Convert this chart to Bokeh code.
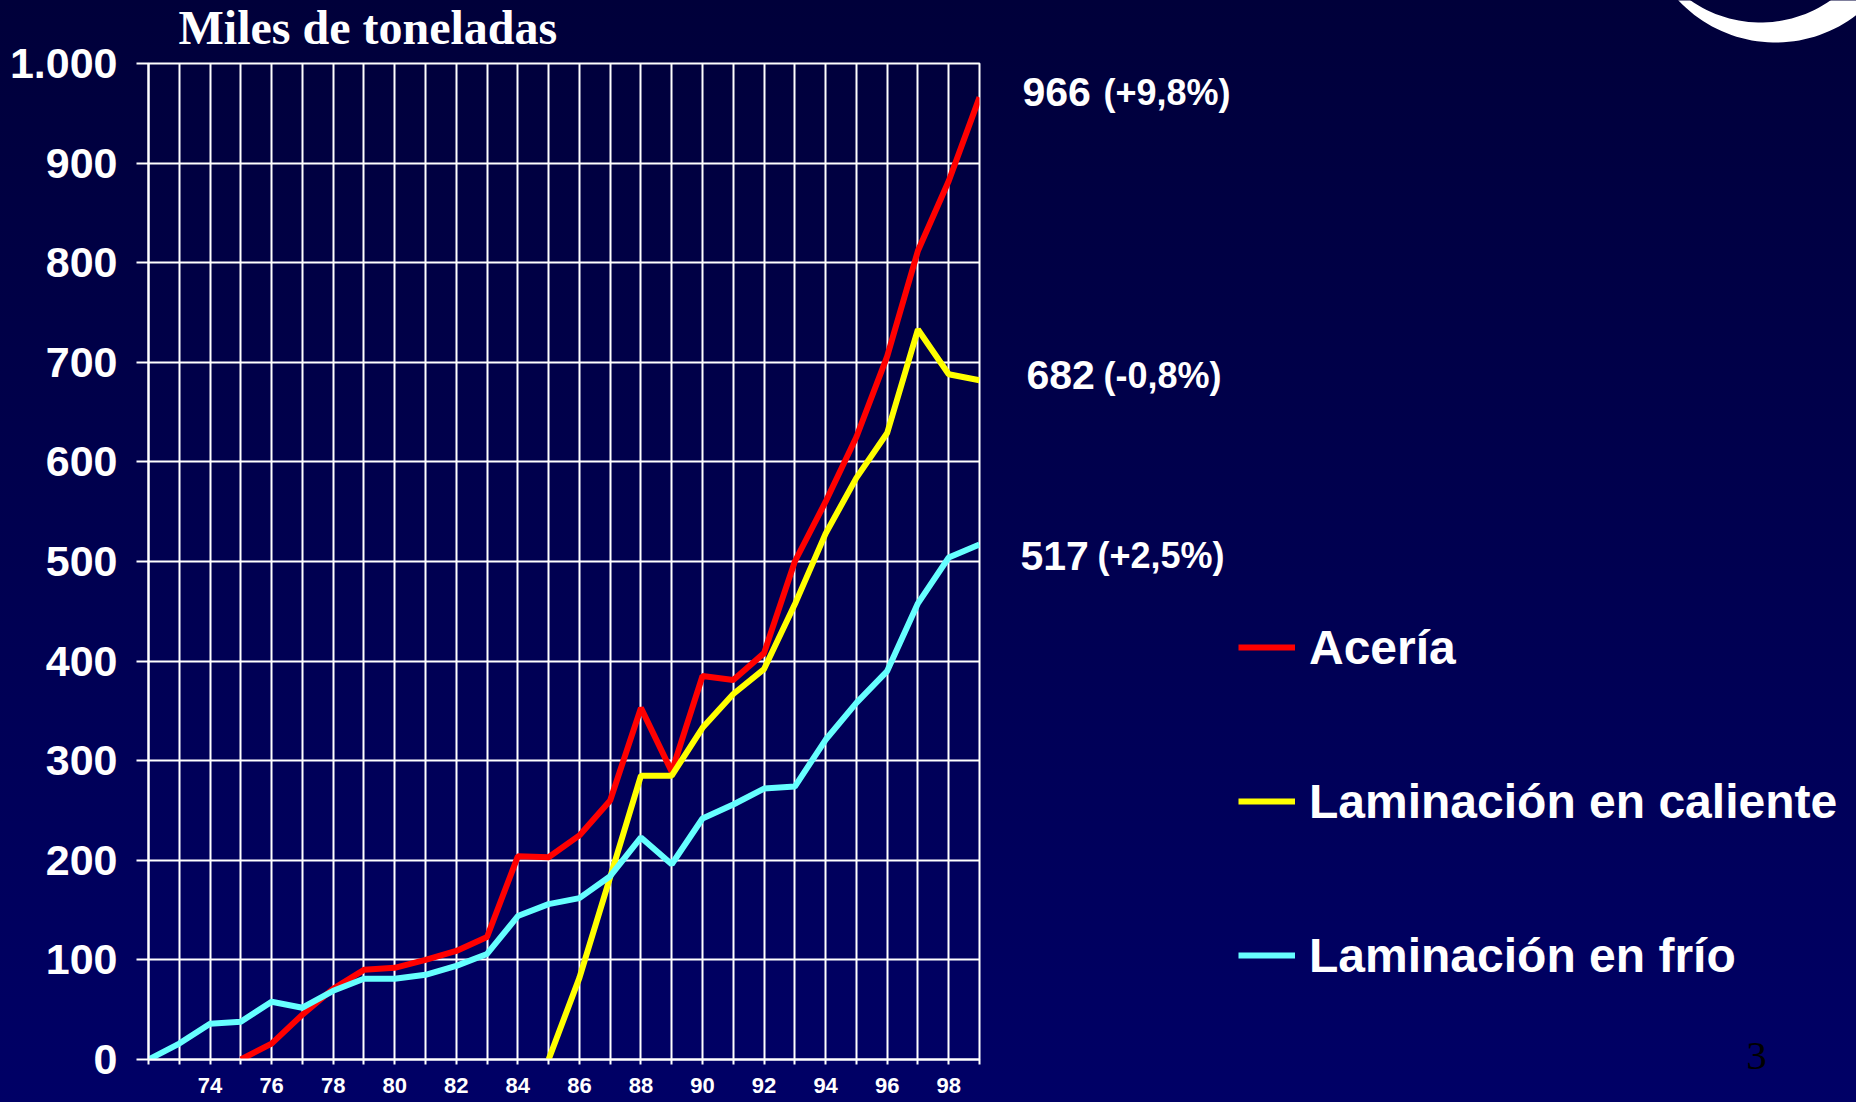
import numpy as np
from bokeh.plotting import figure
from bokeh.layouts import row, column
from bokeh.models import FixedTicker, Label, Legend, LegendItem
from bokeh.embed import file_html
from bokeh.resources import INLINE

# ---------------- data ----------------
aceria_years = list(range(1975, 2000))
aceria = [0, 16, 45, 71, 90, 92, 100, 109, 123, 204, 203, 225, 260, 353, 289,
          385, 381, 408, 500, 560, 625, 706, 812, 882, 966]

caliente_years = list(range(1985, 2000))
caliente = [0, 82, 183, 285, 285, 333, 367, 392, 457, 528, 584, 629, 733, 688, 682]

frio_years = list(range(1972, 2000))
frio = [0, 16, 36, 38, 58, 52, 69, 81, 81, 85, 94, 106, 144, 156, 162, 184, 223,
        196, 242, 256, 272, 274, 321, 358, 390, 458, 504, 517]

series_names = ["Acería", "Laminación en caliente", "Laminación en frío"]
end_values = ["966", "682", "517"]
end_changes = ["(+9,8%)", "(-0,8%)", "(+2,5%)"]

x_ticks = list(range(1972, 2000))
x_tick_labels = ["", "", "74", "", "76", "", "78", "", "80", "", "82", "", "84", "",
                 "86", "", "88", "", "90", "", "92", "", "94", "", "96", "", "98", ""]
y_ticks = [0, 100, 200, 300, 400, 500, 600, 700, 800, 900, 1000]
y_tick_labels = ["0", "100", "200", "300", "400", "500", "600", "700", "800", "900", "1.000"]

title_text = "Miles de toneladas"
page_number = "3"

# ---------------- layout / styles ----------------
H = 1102
TOTAL_W = 1856
MAIN_W = 1000
SIDE_W = TOTAL_W - MAIN_W
FRAME_L, FRAME_R, FRAME_T, FRAME_B = 148, 979, 63, 1059
SANS = "Liberation Sans"
SERIF = "Liberation Serif"
colors = ["#FF0000", "#FFFF00", "#66FFFF"]
PX_PER_UNIT = (FRAME_B - FRAME_T) / 1000.0


def bare(width, height, x_range, y_range, **kw):
    f = figure(width=width, height=height, x_range=x_range, y_range=y_range,
               x_axis_type=None, y_axis_type=None, output_backend="svg",
               toolbar_location=None, outline_line_color=None, **kw)
    f.border_fill_alpha = 0
    f.background_fill_alpha = 0
    f.grid.visible = False
    return f


# ---------------- main chart ----------------
pm = figure(width=MAIN_W, height=H, x_range=(1972, 1999), y_range=(0, 1000),
            output_backend="svg", toolbar_location=None, title=None,
            min_border_left=FRAME_L, min_border_right=MAIN_W - FRAME_R,
            min_border_top=FRAME_T, min_border_bottom=H - FRAME_B)
pm.border_fill_alpha = 0
pm.background_fill_alpha = 0
pm.outline_line_color = "white"
pm.outline_line_width = 2
# the chart is laid over the transparent title strip that sits above it
pm.styles = {"margin-top": f"-{FRAME_T}px"}

pm.xgrid.ticker = FixedTicker(ticks=x_ticks)
pm.ygrid.ticker = FixedTicker(ticks=y_ticks)
for g in (pm.xgrid, pm.ygrid):
    g.grid_line_color = "white"
    g.grid_line_width = 2

pm.xaxis.ticker = FixedTicker(ticks=x_ticks)
pm.xaxis.major_label_overrides = {x: l for x, l in zip(x_ticks, x_tick_labels)}
pm.yaxis.ticker = FixedTicker(ticks=y_ticks)
pm.yaxis.major_label_overrides = {y: l for y, l in zip(y_ticks, y_tick_labels)}
for ax in (pm.xaxis, pm.yaxis):
    ax.axis_line_color = "white"
    ax.axis_line_width = 2
    ax.major_tick_line_color = "white"
    ax.major_tick_line_width = 2
    ax.minor_tick_line_color = None
    ax.major_tick_in = 0
    ax.major_label_text_color = "white"
    ax.major_label_text_font = SANS
    ax.major_label_text_font_style = "bold"
pm.xaxis.major_tick_out = 5
pm.xaxis.major_label_standoff = 13
pm.xaxis.major_label_text_font_size = "22px"
pm.yaxis.major_tick_out = 12
pm.yaxis.major_label_standoff = 19
pm.yaxis.major_label_text_font_size = "43px"

pm.line(aceria_years, aceria, line_color=colors[0], line_width=6)
pm.line(caliente_years, caliente, line_color=colors[1], line_width=6)
pm.line(frio_years, frio, line_color=colors[2], line_width=6)

# ---------------- title strip (same horizontal frame as the chart) ----------------
pt = bare(MAIN_W, FRAME_T, pm.x_range, (0, FRAME_T),
          min_border_left=FRAME_L, min_border_right=MAIN_W - FRAME_R,
          min_border_top=0, min_border_bottom=0)
pt.add_layout(Label(x=1972, x_offset=30, y=36, text=title_text, text_baseline="middle",
                    text_align="left", text_color="white", text_font=SERIF,
                    text_font_style="bold", text_font_size="48px"))

# ---------------- logo strip (top right) ----------------
pl = bare(SIDE_W, FRAME_T, (0, SIDE_W), (0, FRAME_T), min_border=0)
t_out = np.linspace(np.pi, 0, 80)
t_in = np.linspace(0, np.pi, 80)
ox, oy, orad = 1775 - MAIN_W, -91, 133
ix, iy, irad = 1760 - MAIN_W, -100, 122
sx = np.concatenate([ox + orad * np.cos(t_out), ix + irad * np.cos(t_in)])
sy = np.concatenate([oy + orad * np.sin(t_out), iy + irad * np.sin(t_in)])
pl.patch(sx, FRAME_T - sy, fill_color="white", line_color=None)

# ---------------- annotation panel (same vertical scale as the chart) ----------------
ps = bare(SIDE_W, H - FRAME_T, (0, SIDE_W),
          (-(H - FRAME_B) / PX_PER_UNIT, 1000), min_border=0)

# legend: same series drawn here lie outside this panel's x range (not visible)
swatches = [ps.line(xv, yv, line_color=c, line_width=6)
            for xv, yv, c in zip([aceria_years, caliente_years, frio_years],
                                 [aceria, caliente, frio], colors)]
legend = Legend(
    items=[LegendItem(label=n, renderers=[r]) for n, r in zip(series_names, swatches)],
    location=(238, 118), orientation="vertical",
    glyph_width=57, glyph_height=58, label_height=58,
    label_standoff=14, spacing=96, padding=0, margin=0,
    border_line_alpha=0, background_fill_alpha=0,
    label_text_color="white", label_text_font=SANS, label_text_font_style="bold",
    label_text_font_size="48px", label_text_baseline="middle",
)
ps.add_layout(legend)

# end-of-series value labels, at the series' last values
last_vals = [aceria[-1], caliente[-1], frio[-1]]
val_x = [22, 26, 20]
chg_x = [103, 103, 97]
val_dy = [5, 5, -11]
for v, tv, tc, x1, x2, dy in zip(last_vals, end_values, end_changes, val_x, chg_x, val_dy):
    ps.add_layout(Label(x=x1, y=v, y_offset=dy, text=tv,
                        text_baseline="middle", text_align="left",
                        text_color="white", text_font=SANS, text_font_style="bold",
                        text_font_size="41px"))
    ps.add_layout(Label(x=x2, y=v, y_offset=dy, text=tc,
                        text_baseline="middle", text_align="left",
                        text_color="white", text_font=SANS, text_font_style="bold",
                        text_font_size="36px"))

# page number
ps.add_layout(Label(x=756, y=0, y_offset=4, text=page_number,
                    text_baseline="middle", text_align="center",
                    text_color="black", text_font=SERIF, text_font_size="41px"))

layout = row(column(pt, pm, spacing=0), column(pl, ps, spacing=0), spacing=0)
layout.styles = {"background": "linear-gradient(to bottom, #00003a 0%, #000066 100%)"}
open("out.html", "w").write(file_html(layout, INLINE))
